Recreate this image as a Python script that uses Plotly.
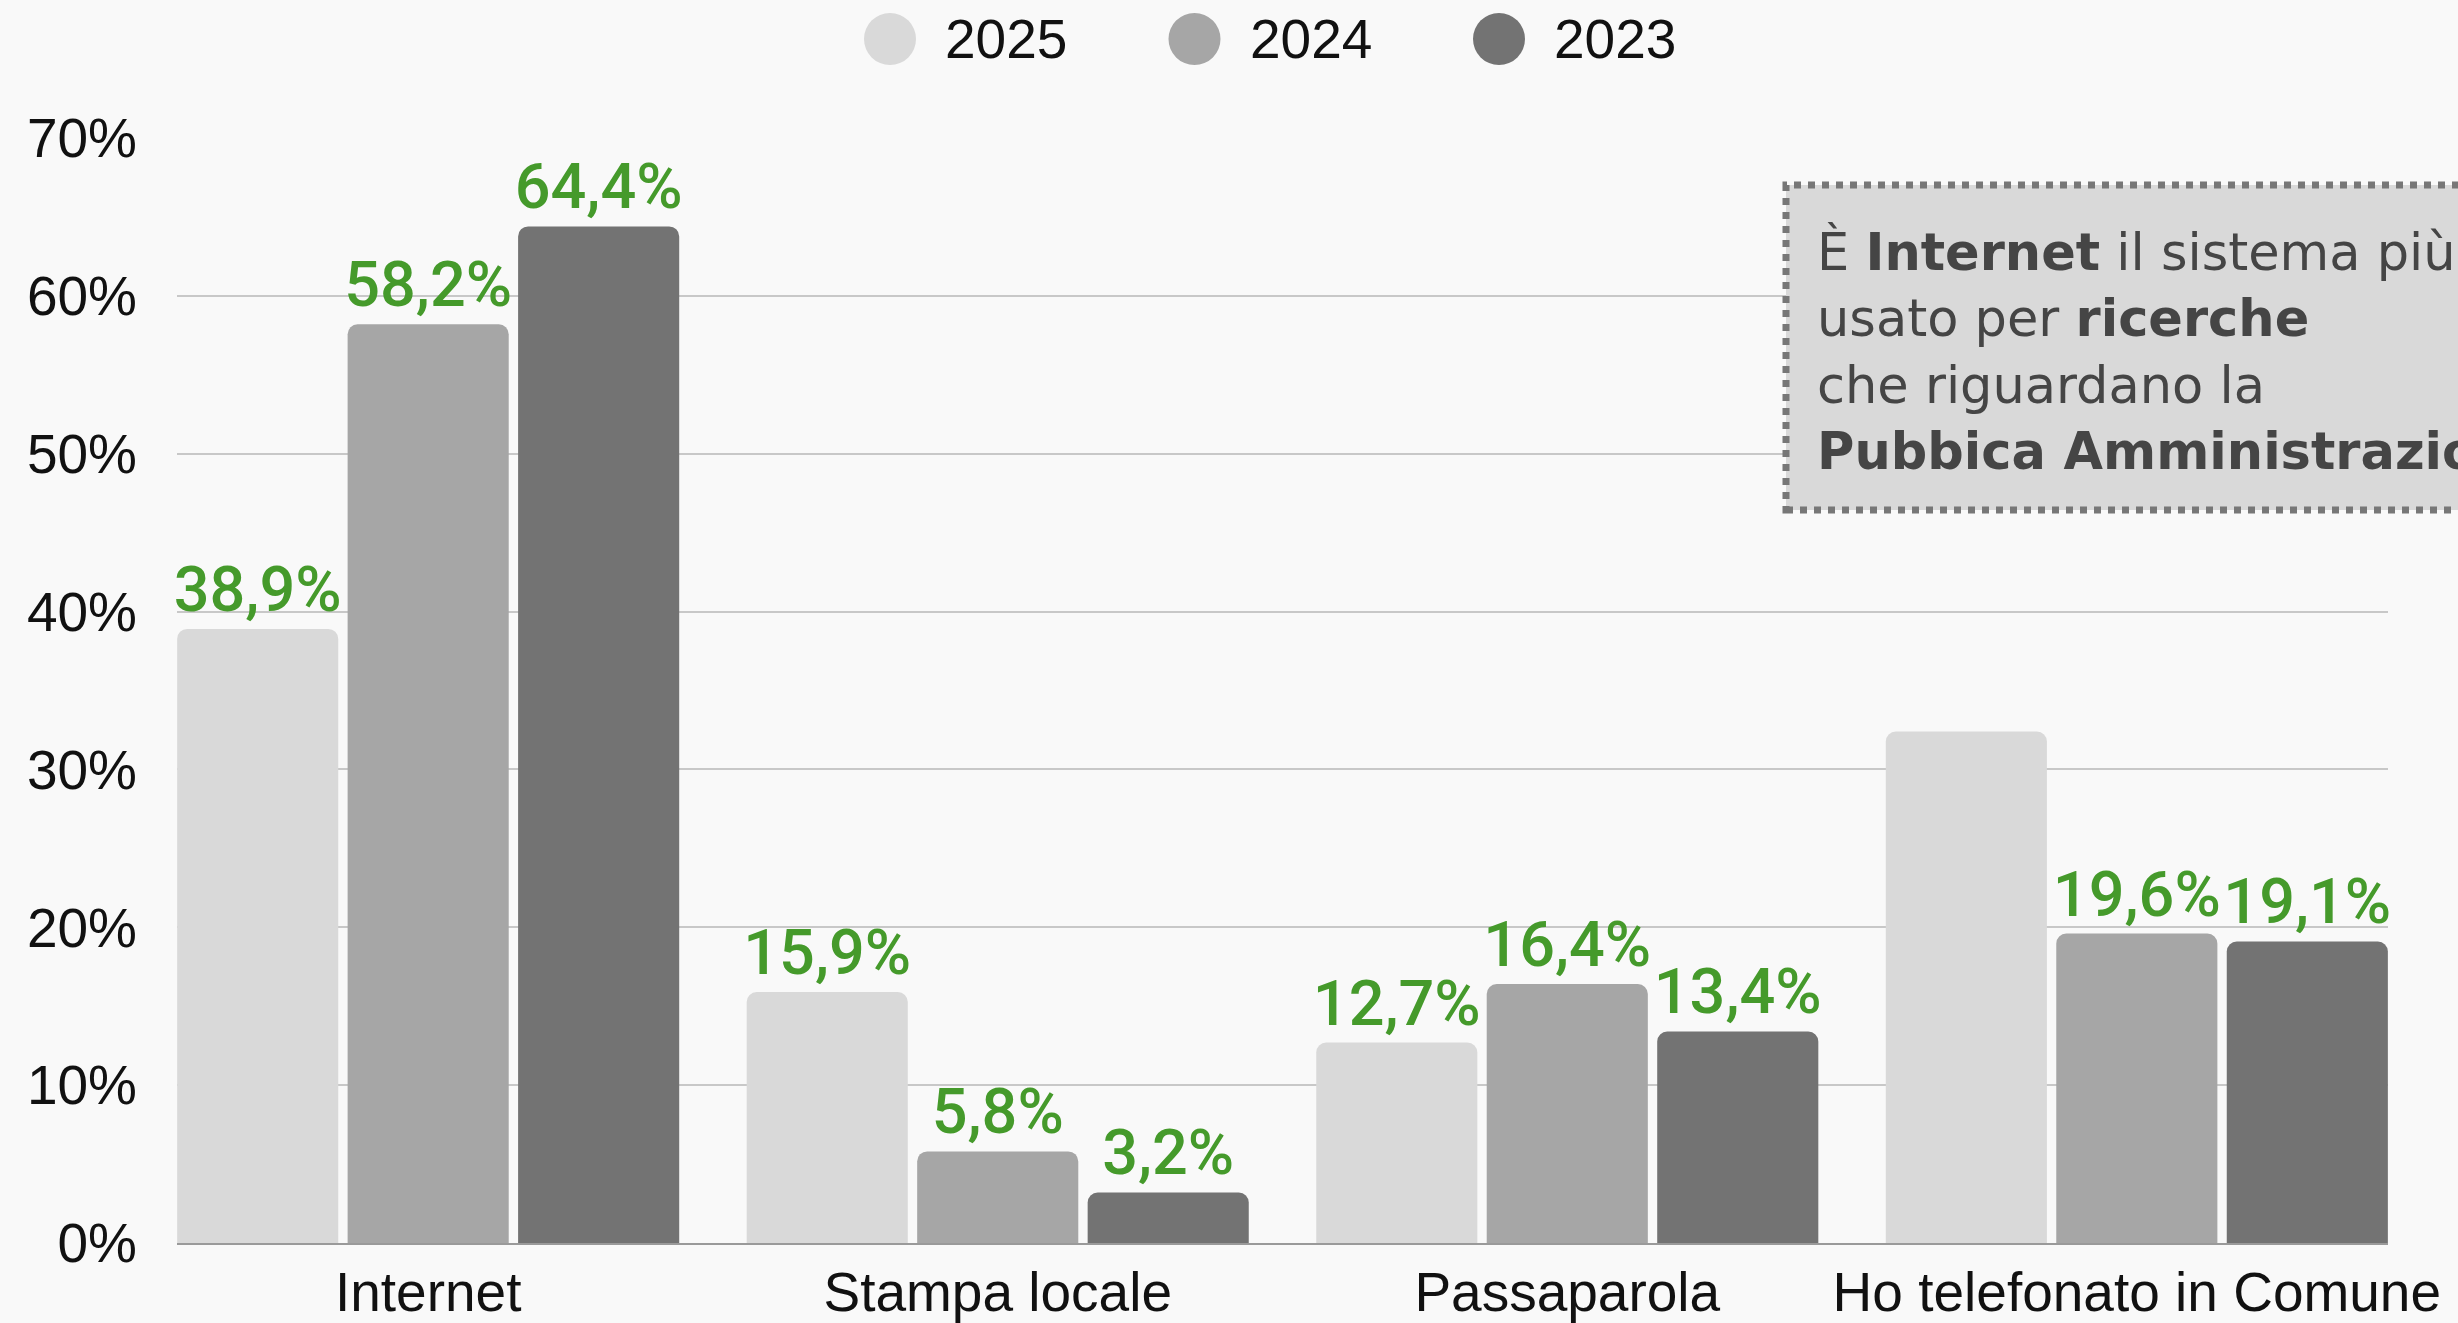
import plotly.graph_objects as go

categories = ["Internet", "Stampa locale", "Passaparola", "Ho telefonato in Comune"]
series_names = ["2025", "2024", "2023"]
values_2025 = [38.9, 15.9, 12.7, 32.4]
values_2024 = [58.2, 5.8, 16.4, 19.6]
values_2023 = [64.4, 3.2, 13.4, 19.1]
show_label_2025 = [True, True, True, False]
show_label_2024 = [True, True, True, True]
show_label_2023 = [True, True, True, True]
colors = ["#d9d9d9", "#a6a6a6", "#737373"]
y_ticks = [0, 10, 20, 30, 40, 50, 60, 70]
y_tick_labels = ["0%", "10%", "20%", "30%", "40%", "50%", "60%", "70%"]

W, H = 2458, 1323
ML, MR, MT, MB = 177, 70, 138, 80
PW = W - ML - MR
PH = H - MT - MB
BASE_FONT = "Liberation Sans, Arial, sans-serif"
BASE_SIZE = 55

def px_x(p):
    return (p - ML) / PW

def px_y(p):
    return (H - MB - p) / PH

def fmt(v):
    return f"{v:.1f}".replace(".", ",") + "%"

fig = go.Figure()
all_vals = [values_2025, values_2024, values_2023]
all_show = [show_label_2025, show_label_2024, show_label_2023]
for name, vals, shows, col in zip(series_names, all_vals, all_show, colors):
    fig.add_trace(go.Bar(
        x=categories, y=vals, name=name,
        marker=dict(color=col, cornerradius=10, line=dict(width=0)),
        text=[fmt(v) if s else "" for v, s in zip(vals, shows)],
        textposition="outside",
        textfont=dict(family="Roboto", size=63, color="#459a2b", weight=500),
        constraintext="none",
        cliponaxis=False,
        showlegend=False,
        hoverinfo="x+y",
    ))

fig.update_layout(
    width=W, height=H,
    margin=dict(l=ML, r=MR, t=MT, b=MB, autoexpand=False),
    paper_bgcolor="#f9f9f9", plot_bgcolor="#f9f9f9",
    barmode="group", bargap=0.102, bargroupgap=0.055,
    font=dict(family=BASE_FONT, size=BASE_SIZE, color="#111111"),
    xaxis=dict(
        type="category", range=[-0.441, len(categories) - 0.559],
        showgrid=False, showline=True, linecolor="#9a9a9a", linewidth=2,
        ticks="", ticklen=0, ticklabelstandoff=0, automargin=False,
        tickfont=dict(family=BASE_FONT, size=BASE_SIZE, color="#111111"),
    ),
    yaxis=dict(
        range=[0, 70], tickmode="array", tickvals=y_ticks, ticktext=y_tick_labels,
        showgrid=True, gridcolor="#c8c8c8", gridwidth=2,
        zeroline=False, showline=False, ticks="", ticklabelstandoff=39,
        automargin=False,
        tickfont=dict(family=BASE_FONT, size=BASE_SIZE, color="#111111"),
    ),
    showlegend=False,
)

shapes = []
annotations = []

# Custom legend with circles
leg_circle_x0 = 890
leg_step = 304.5
leg_y = 39
for i, (name, col) in enumerate(zip(series_names, colors)):
    cx = leg_circle_x0 + i * leg_step
    shapes.append(dict(
        type="circle", xref="paper", yref="paper",
        xsizemode="pixel", ysizemode="pixel",
        xanchor=px_x(cx), yanchor=px_y(leg_y),
        x0=-26, x1=26, y0=-26, y1=26,
        fillcolor=col, line=dict(width=0),
    ))
    annotations.append(dict(
        xref="paper", yref="paper", x=px_x(cx + 53), y=px_y(leg_y),
        xanchor="left", yanchor="middle", showarrow=False, text=name,
        font=dict(family=BASE_FONT, size=BASE_SIZE, color="#111111"),
    ))

# Callout box
shapes.append(dict(
    type="rect", xref="paper", yref="paper",
    x0=px_x(1786), x1=px_x(2520), y0=px_y(510), y1=px_y(185),
    fillcolor="#d9d9d9", line=dict(color="#777777", width=7, dash="dot"),
    layer="above",
))
annotations.append(dict(
    xref="paper", yref="paper", x=px_x(1815), y=px_y(220),
    xanchor="left", yanchor="top", align="left", showarrow=False,
    text="È <b>Internet</b> il sistema più<br>usato per <b>ricerche</b><br>che riguardano la<br><b>Pubbica Amministrazione</b>",
    font=dict(family="DejaVu Sans", size=51, color="#454545"),
))

fig.update_layout(shapes=shapes, annotations=annotations)
fig.write_html(
    "out.html",
    config={"displayModeBar": False},
    post_script="document.body.style.margin='0';document.body.style.overflow='hidden';",
)
